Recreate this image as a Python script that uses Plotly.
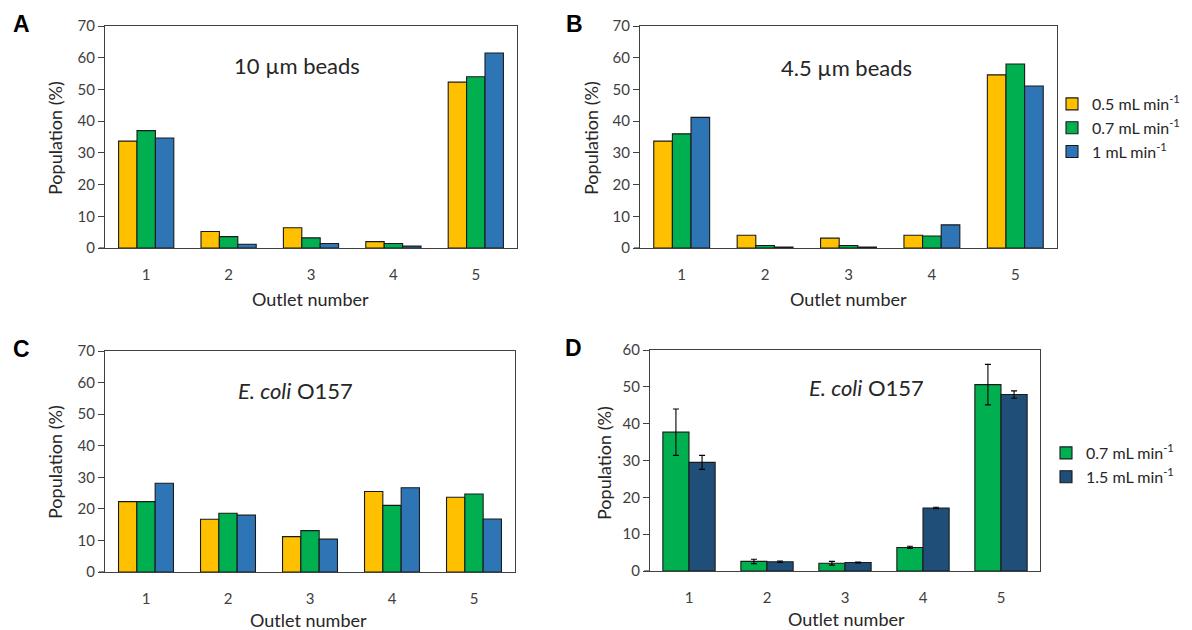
import plotly.graph_objects as go

outlets = [1, 2, 3, 4, 5]

# Panel A: 10 µm beads
a_05 = [33.7, 5.2, 6.4, 2.0, 52.3]
a_07 = [37.0, 3.6, 3.2, 1.4, 54.0]
a_10 = [34.7, 1.2, 1.4, 0.6, 61.5]

# Panel B: 4.5 µm beads
b_05 = [33.7, 4.0, 3.1, 4.0, 54.6]
b_07 = [36.0, 0.8, 0.8, 3.8, 58.0]
b_10 = [41.2, 0.3, 0.3, 7.3, 51.1]

# Panel C: E. coli O157
c_05 = [22.3, 16.7, 11.2, 25.5, 23.7]
c_07 = [22.3, 18.6, 13.1, 21.1, 24.7]
c_10 = [28.1, 18.0, 10.4, 26.7, 16.8]

# Panel D: E. coli O157 with error bars
d_07 = [37.7, 2.6, 2.1, 6.4, 50.6]
d_07_err = [6.3, 0.6, 0.5, 0.3, 5.5]
d_15 = [29.5, 2.5, 2.3, 17.1, 47.9]
d_15_err = [1.9, 0.2, 0.1, 0.2, 1.0]

names3 = ["0.5 mL min<sup>-1</sup>", "0.7 mL min<sup>-1</sup>", "1 mL min<sup>-1</sup>"]
names2 = ["0.7 mL min<sup>-1</sup>", "1.5 mL min<sup>-1</sup>"]

YELLOW = "#FFC000"
GREEN = "#00B050"
BLUE = "#2E75B6"
DARK = "#1F4E79"
FONT = "Lato"
W, H = 1192, 630
OFF = 8  # page body margin offset

fig = go.Figure()

def add_bars(xa, ya, series, colors, names, legend=None, show=False, errs=None):
    for i, (vals, col, nm) in enumerate(zip(series, colors, names)):
        kw = {}
        if errs is not None:
            kw["error_y"] = dict(type="data", array=errs[i], color="#000000",
                                 thickness=1.1, width=3)
        fig.add_trace(go.Bar(
            x=outlets, y=vals, name=nm, xaxis=xa, yaxis=ya,
            marker=dict(color=col, line=dict(color="#1a1a1a", width=1.1)),
            showlegend=show, legend=legend if legend else "legend", **kw))

add_bars("x", "y", [a_05, a_07, a_10], [YELLOW, GREEN, BLUE], names3)
add_bars("x2", "y2", [b_05, b_07, b_10], [YELLOW, GREEN, BLUE], names3, legend="legend", show=True)
add_bars("x3", "y3", [c_05, c_07, c_10], [YELLOW, GREEN, BLUE], names3)
add_bars("x4", "y4", [d_07, d_15], [GREEN, DARK], names2, legend="legend2", show=True,
         errs=[d_07_err, d_15_err])

def px_x(p):
    return (p - OFF) / W

def px_y(p):
    return 1 - (p - OFF) / H

panels = {
    "": dict(x=(105, 517), y=(26, 248), ymax=70),
    "2": dict(x=(640, 1057), y=(26, 248), ymax=70),
    "3": dict(x=(105, 515), y=(351, 572), ymax=70),
    "4": dict(x=(650, 1040), y=(350, 571), ymax=60),
}

axis_line = "#404040"
tickfont = dict(family=FONT, size=15, color="#404040")
shapes = []
for k, p in panels.items():
    fig.layout["xaxis" + k] = dict(
        domain=[px_x(p["x"][0]), px_x(p["x"][1])],
        anchor="y" + k, range=[0.5, 5.5], tickvals=outlets,
        showline=True, mirror=True, linecolor=axis_line, linewidth=1.2,
        ticks="outside", ticklen=13, tickcolor="rgba(0,0,0,0)",
        showgrid=False, zeroline=False, tickfont=tickfont, fixedrange=True,
        automargin=False)
    fig.layout["yaxis" + k] = dict(
        domain=[px_y(p["y"][1]), px_y(p["y"][0])],
        anchor="x" + k, range=[0, p["ymax"]], dtick=10,
        showline=True, mirror=True, linecolor=axis_line, linewidth=1.2,
        ticks="outside", ticklen=6, tickcolor=axis_line,
        showgrid=False, zeroline=False, tickfont=tickfont, fixedrange=True,
        automargin=False)
    # Excel-style extension of the category axis to the left of the value axis
    shapes.append(dict(type="line", xref="paper", yref="paper",
                       x0=px_x(p["x"][0] - 6), x1=px_x(p["x"][0]),
                       y0=px_y(p["y"][1]), y1=px_y(p["y"][1]),
                       line=dict(color=axis_line, width=1.2)))

ann = []
def txt(x, y, s, size, **kw):
    ann.append(dict(x=px_x(x), y=px_y(y), xref="paper", yref="paper", text=s,
                    showarrow=False, font=dict(family=FONT, size=size, color="#262626"),
                    xanchor="center", yanchor="middle", **kw))

# panel letters
for x, y, s in [(21, 24, "A"), (574, 24, "B"), (21, 349, "C"), (573, 348, "D")]:
    ann.append(dict(x=px_x(x), y=px_y(y), xref="paper", yref="paper", text="<b>" + s + "</b>",
                    showarrow=False, font=dict(family="Liberation Sans", size=23, color="#000000"),
                    xanchor="center", yanchor="middle"))

# x titles
for x, y in [(310, 299), (848, 299), (308, 620), (846, 619)]:
    txt(x, y, "Outlet number", 18)
# y titles
for x, y in [(55, 138), (591, 138), (55, 462), (604, 463)]:
    txt(x, y, "Population (%)", 18, textangle=-90)
# in-panel labels
txt(297, 65, "10 µm beads", 22)
txt(846, 67, "4.5 µm beads", 22)
txt(295, 391, "<i>E. coli</i> O157", 22)
txt(866, 387, "<i>E. coli</i> O157", 22)

fig.update_layout(
    width=W, height=H, margin=dict(l=0, r=0, t=0, b=0, autoexpand=False),
    paper_bgcolor="white", plot_bgcolor="white",
    barmode="group", bargap=0.33, bargroupgap=0,
    annotations=ann, shapes=shapes,
    legend=dict(x=px_x(1052), y=px_y(87), xanchor="left", yanchor="top",
                font=dict(family=FONT, size=16, color="#262626"),
                bgcolor="rgba(0,0,0,0)", tracegroupgap=0, itemwidth=30),
    legend2=dict(x=px_x(1046), y=px_y(436), xanchor="left", yanchor="top",
                 font=dict(family=FONT, size=16, color="#262626"),
                 bgcolor="rgba(0,0,0,0)", tracegroupgap=0, itemwidth=30),
    font=dict(family=FONT),
)

fig.write_html("out.html")
